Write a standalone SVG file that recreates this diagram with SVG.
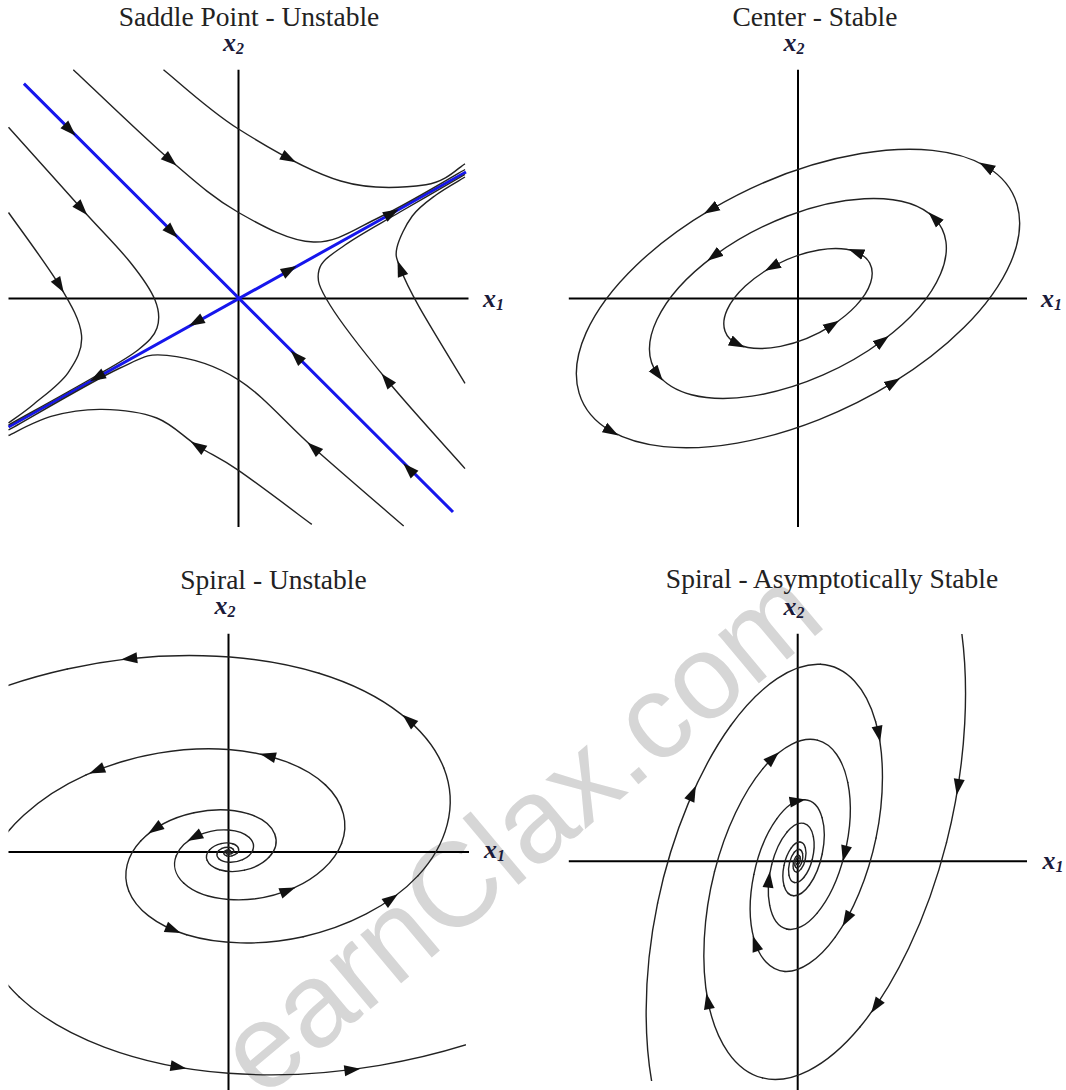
<svg xmlns="http://www.w3.org/2000/svg" width="1066" height="1090" viewBox="0 0 1066 1090">
<style>
.ax{stroke:#000;stroke-width:2;fill:none}
.tr{fill:none;stroke:#222;stroke-width:1.4}
.sp{fill:none;stroke:#222;stroke-width:1.4;vector-effect:non-scaling-stroke;stroke-linecap:round}
.bl{fill:none;stroke:#1616ec;stroke-width:3}
.ttl{font-family:"Liberation Serif","Times New Roman",serif;font-size:27.5px;fill:#222;text-anchor:middle}
.lb{font-family:"Liberation Serif","Times New Roman",serif;font-size:26px;font-style:italic;font-weight:bold;fill:#1b1b3a}
.sub{font-size:16px}
.wm{font-family:"Liberation Sans",Arial,sans-serif;font-size:120px;fill:#d6d6d6}
.ahd{fill:#111}
</style>
<defs>
<path id="ah" class="ahd" d="M8,0 L-8,-5.5 L-8,5.5 Z"/>
<marker id="mk" viewBox="-8 -6 16 12" refX="0" refY="0" markerWidth="16" markerHeight="12" markerUnits="userSpaceOnUse" orient="auto"><path d="M8,0 L-8,-5.5 L-8,5.5 Z" fill="#111"/></marker>
<path id="a0" class="sp" d="M1,0 C1.0641,0.2618 1.0266,0.5778 0.8572,0.8572"/>
<g id="a1"><use href="#a0"/><use href="#a0" transform="rotate(45) scale(1.2122)"/></g>
<g id="a2"><use href="#a1"/><use href="#a1" transform="rotate(90) scale(1.4694)"/></g>
<g id="a3"><use href="#a2"/><use href="#a2" transform="rotate(180) scale(2.1591)"/></g>
<g id="a4"><use href="#a3"/><use href="#a3" transform="scale(4.6617)"/></g>
<g id="a5"><use href="#a4"/><use href="#a4" transform="scale(21.731)"/></g>
<path id="b0" class="sp" d="M1,0 C1.0484,0.2618 0.9922,0.5640 0.8177,0.8177"/>
<g id="b1"><use href="#b0"/><use href="#b0" transform="rotate(45) scale(1.1564)"/></g>
<g id="b2"><use href="#b1"/><use href="#b1" transform="rotate(90) scale(1.3372)"/></g>
<g id="b3"><use href="#b2"/><use href="#b2" transform="rotate(180) scale(1.7882)"/></g>
<g id="b4"><use href="#b3"/><use href="#b3" transform="scale(3.1976)"/></g>
<g id="b5"><use href="#b4"/><use href="#b4" transform="scale(10.225)"/></g>
<clipPath id="c3"><rect x="8.5" y="625" width="457.5" height="465"/></clipPath>
<clipPath id="c4"><rect x="569" y="634" width="458" height="447"/></clipPath>
</defs>
<rect width="1066" height="1090" fill="#fff"/>

<g id="watermark">
<text class="wm" transform="translate(262,1100) rotate(-40)">earnClax.com</text>
</g>

<g id="saddle">
<text class="ttl" x="249" y="26">Saddle Point - Unstable</text>
<path class="ax" d="M238.5,69.7 V527 M8.5,298.5 H468.5"/>
<text class="lb" x="223" y="51">x<tspan class="sub" dy="3">2</tspan></text>
<text class="lb" x="483" y="306.5">x<tspan class="sub" dy="3">1</tspan></text>
<path class="bl" d="M23.9,83.6 L453,512 M8.5,427 L466,172"/>
<g id="saddle-trajectories">
<path class="tr" d="M163.5,69.7 C176,79.6 209,110.4 238.5,129 C268,147.6 309.5,171.7 340.7,181 C371.9,190.3 405.2,187.6 425.9,184.7 C446.6,181.8 458.5,167.3 465,163.8"/>
<path class="tr" d="M73.3,69.7 C89.5,84.8 142.9,136.5 170.4,160.3 C197.9,184.1 214.7,198.9 238.5,212.5 C262.4,226.1 289.9,241.3 313.5,242 C337.1,242.8 354.8,229 380,217 C405.3,205 450.8,177.8 465,169.5"/>
<path class="tr" d="M8.5,127.2 C20.7,140.8 61.55,186.5 81.8,209 C102.05,231.5 117.8,246.8 130,262 C142.2,277.2 150.5,289 155,300 C159.5,311 159.8,319.7 157,328 C154.2,336.3 148.3,341.9 138,350 C127.7,358.1 116.6,364 95,376.5 C73.4,389 22.9,416.9 8.5,425"/>
<path class="tr" d="M8.5,212.5 C17,224.7 47.4,265.3 59.6,285.7 C71.8,306.1 80.1,320.5 81.5,335 C82.9,349.5 75.9,361.3 68,372.8 C60.1,384.3 43.9,395.6 34,404 C24.1,412.4 12.75,419.8 8.5,423"/>
<path class="tr" d="M311.8,524.4 C299.6,515.4 257.5,483.5 238.5,470.4 C219.5,457.3 211.2,454.7 197.6,446 C184,437.3 172.6,424.1 156.7,418 C140.8,411.9 119.6,409.7 102,409.4 C84.4,409.1 66.6,412.1 51,416.4 C35.4,420.8 15.6,432.3 8.5,435.5"/>
<path class="tr" d="M403.7,526 C388.7,513 341,472.1 313.5,447.7 C286,423.3 262.9,395.2 238.5,379.8 C214.1,364.4 186.9,357.3 167,355.4 C147.1,353.5 145.4,356.1 119,368.5 C92.6,380.9 26.9,419.8 8.5,430"/>
<path class="tr" d="M465,468.6 C452,453.8 409.2,407.1 386.7,379.8 C364.2,352.5 341.3,323.3 330,305 C318.7,286.7 316.5,280 319,270 C321.5,260 331.5,254.7 345,245 C358.5,235.3 380,223.8 400,212 C420,200.3 454.2,180.8 465,174.5"/>
<path class="tr" d="M465,383.3 C457.3,370.5 429.8,325.8 419,306.6 C408.2,287.4 404,278.2 400.3,268.3 C396.6,258.4 395,256.1 397,247.4 C399,238.7 405.8,224.7 412.3,216 C418.8,207.3 427.2,201.5 436,195 C444.8,188.5 460.2,180 465,177"/>
</g>
<g id="saddle-arrows">
<use href="#ah" transform="translate(70,130) rotate(45)"/>
<use href="#ah" transform="translate(172,232) rotate(45)"/>
<use href="#ah" transform="translate(296.4,356.4) rotate(-135)"/>
<use href="#ah" transform="translate(408.9,468.9) rotate(-135)"/>
<use href="#ah" transform="translate(289.6,270) rotate(-29.1)"/>
<use href="#ah" transform="translate(391.8,213.1) rotate(-29.1)"/>
<use href="#ah" transform="translate(195.9,322.2) rotate(150.9)"/>
<use href="#ah" transform="translate(97,377.3) rotate(150.9)"/>
<use href="#ah" transform="translate(288.9,158.5) rotate(28)"/>
<use href="#ah" transform="translate(170.4,160.3) rotate(41)"/>
<use href="#ah" transform="translate(81.8,209) rotate(48)"/>
<use href="#ah" transform="translate(59.6,285.7) rotate(59)"/>
<use href="#ah" transform="translate(197.6,446) rotate(-147)"/>
<use href="#ah" transform="translate(313.5,447.7) rotate(-138.5)"/>
<use href="#ah" transform="translate(386.7,379.8) rotate(-129.5)"/>
<use href="#ah" transform="translate(400.3,268.3) rotate(-110)"/>
</g>
</g>

<g id="center">
<text class="ttl" x="815" y="26">Center - Stable</text>
<path class="ax" d="M798,69.7 V527 M568.8,298.5 H1027"/>
<text class="lb" x="783.4" y="51">x<tspan class="sub" dy="3">2</tspan></text>
<text class="lb" x="1041" y="306.5">x<tspan class="sub" dy="3">1</tspan></text>
<g id="center-orbits" transform="translate(798,298.5) rotate(-25.6)" marker-mid="url(#mk)">
<path class="tr" d="M119.5,-103.5 A239,119.5 0 0 0 -40.27,-117.79 A239,119.5 0 0 0 -225.7,39.3 A239,119.5 0 0 0 49.69,116.88 A239,119.5 0 0 0 226.79,-37.71 A239,119.5 0 0 0 119.5,-103.5"/>
<path class="tr" d="M102.84,-61.28 A160,80 0 0 0 -57.6,-74.64 A160,80 0 0 0 -159.2,7.94 A160,80 0 0 0 57.86,74.58 A160,80 0 0 0 157.6,-13.75 A160,80 0 0 0 102.84,-61.28"/>
<path class="tr" d="M40,-34.64 A80,40 0 0 0 -9.75,-39.7 A80,40 0 0 0 -74.28,14.86 A80,40 0 0 0 19.35,38.81 A80,40 0 0 0 72.33,-17.1 A80,40 0 0 0 40,-34.64"/>
</g>
</g>

<g id="spiral-unstable">
<text class="ttl" x="273.5" y="589">Spiral - Unstable</text>
<path class="ax" d="M228.5,633.8 V1090 M8.5,852 H469"/>
<text class="lb" x="214.6" y="614">x<tspan class="sub" dy="3">2</tspan></text>
<text class="lb" x="484" y="858">x<tspan class="sub" dy="3">1</tspan></text>
<g id="spiral-unstable-trajectories" clip-path="url(#c3)">
<use href="#a5" transform="matrix(46.2,-3.5,0,-28.5,228.5,852) rotate(522) scale(0.01973)"/>
<use href="#a5" transform="matrix(46.2,-3.5,0,-28.5,228.5,852) rotate(675) scale(0.019928)"/>
</g>
<g id="spiral-unstable-arrows">
<use href="#ah" transform="translate(129.2,658.7) rotate(173.7)"/>
<use href="#ah" transform="translate(408.6,720) rotate(-138.9)"/>
<use href="#ah" transform="translate(267.7,755.8) rotate(-165.6)"/>
<use href="#ah" transform="translate(96.7,770.4) rotate(158.1)"/>
<use href="#ah" transform="translate(154.9,829) rotate(146.1)"/>
<use href="#ah" transform="translate(194.4,837.2) rotate(151.9)"/>
<use href="#ah" transform="translate(287.9,890.4) rotate(-21.1)"/>
<use href="#ah" transform="translate(391.3,898.9) rotate(-35.3)"/>
<use href="#ah" transform="translate(173.3,930) rotate(22.6)"/>
<use href="#ah" transform="translate(178.5,1067) rotate(9.9)"/>
<use href="#ah" transform="translate(352.4,1069.7) rotate(-7.3)"/>
</g>
</g>

<g id="spiral-stable">
<text class="ttl" x="832" y="587.5">Spiral - Asymptotically Stable</text>
<path class="ax" d="M797.7,633.8 V1090 M568.8,861.3 H1027"/>
<text class="lb" x="783.4" y="615">x<tspan class="sub" dy="3">2</tspan></text>
<text class="lb" x="1042.4" y="869">x<tspan class="sub" dy="3">1</tspan></text>
<g id="spiral-stable-trajectories" clip-path="url(#c4)">
<use href="#b5" transform="matrix(72.6,0,28.2,-144.9,797.7,861.3) rotate(48.7) scale(0.02216)"/>
<use href="#b5" transform="matrix(72.6,0,28.2,-144.9,797.7,861.3) rotate(234) scale(0.02036)"/>
</g>
<g id="spiral-stable-arrows">
<use href="#ah" transform="translate(878.6,733.9) rotate(78.7)"/>
<use href="#ah" transform="translate(958,787) rotate(99.1)"/>
<use href="#ah" transform="translate(692.6,793.1) rotate(-66)"/>
<use href="#ah" transform="translate(773,757.7) rotate(-43.6)"/>
<use href="#ah" transform="translate(797.7,800.8) rotate(-10)"/>
<use href="#ah" transform="translate(844.7,853.7) rotate(103.8)"/>
<use href="#ah" transform="translate(768.9,879.7) rotate(-83.7)"/>
<use href="#ah" transform="translate(846.6,919.3) rotate(119.3)"/>
<use href="#ah" transform="translate(755.3,943.4) rotate(-108.7)"/>
<use href="#ah" transform="translate(707.9,1001.1) rotate(-100.9)"/>
<use href="#ah" transform="translate(875.7,1006.3) rotate(124.7)"/>
</g>
</g>
</svg>
